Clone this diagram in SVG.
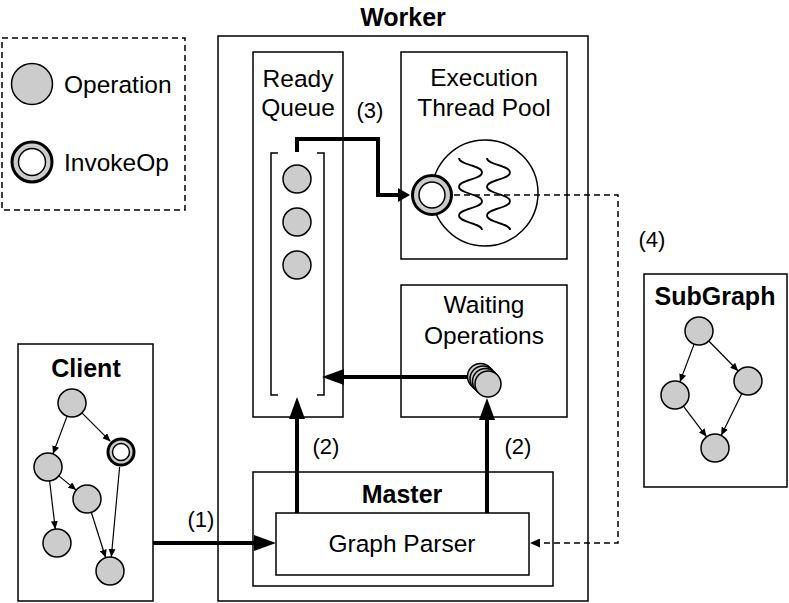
<svg xmlns="http://www.w3.org/2000/svg" width="789" height="603" viewBox="0 0 789 603">
<style>
.box{fill:#fff;stroke:#000;stroke-width:1.5}
.t{font-family:"Liberation Sans",Arial,sans-serif;font-size:24.5px;fill:#000;text-anchor:middle}
.tl{font-family:"Liberation Sans",Arial,sans-serif;font-size:24.5px;fill:#000}
.b{font-family:"Liberation Sans",Arial,sans-serif;font-size:25px;font-weight:bold;fill:#000;text-anchor:middle}
.lab{font-family:"Liberation Sans",Arial,sans-serif;font-size:22px;fill:#000;text-anchor:middle}
.op{fill:#cccccc;stroke:#000;stroke-width:1.5}
.ring{fill:#cccccc;stroke:#000;stroke-width:3}
.hole{fill:#fff;stroke:#000;stroke-width:1.5}
.thick{fill:none;stroke:#000;stroke-width:4}
.thin{fill:none;stroke:#000;stroke-width:1.2}
.dash{fill:none;stroke:#000;stroke-width:1.5;stroke-dasharray:6 4}
.wave{fill:none;stroke:#000;stroke-width:1.8}
</style>
<defs>
<marker id="big" viewBox="0 0 22 16" refX="12" refY="8" markerWidth="22" markerHeight="16" markerUnits="userSpaceOnUse" orient="auto"><path d="M0,0 L22,8 L0,16 z" fill="#000"/></marker>
<marker id="mid" viewBox="0 0 12 14" refX="6" refY="7" markerWidth="12" markerHeight="14" markerUnits="userSpaceOnUse" orient="auto"><path d="M0,0 L12,7 L0,14 z" fill="#000"/></marker>
<marker id="small" viewBox="0 0 8 7" refX="8" refY="3.5" markerWidth="8" markerHeight="7" markerUnits="userSpaceOnUse" orient="auto"><path d="M0,0 L8,3.5 L0,7 z" fill="#000"/></marker>
<marker id="dashhead" viewBox="0 0 10 9" refX="10" refY="4.5" markerWidth="10" markerHeight="9" markerUnits="userSpaceOnUse" orient="auto"><path d="M0,0 L10,4.5 L0,9 z" fill="#000"/></marker>
</defs>

<g id="legend">
<rect x="2" y="38" width="183" height="172" fill="none" stroke="#000" stroke-width="1.5" stroke-dasharray="6 4"/>
<circle class="op" cx="32" cy="84" r="20.5"/>
<text class="tl" x="64" y="93">Operation</text>
<circle class="ring" cx="32" cy="162" r="20"/>
<circle class="hole" cx="32" cy="162" r="13.5"/>
<text class="tl" x="64" y="171">InvokeOp</text>
</g>

<g id="worker">
<rect class="box" x="218" y="36" width="370" height="565"/>
<text class="b" x="403" y="26">Worker</text>
</g>

<g id="ready-queue">
<rect class="box" x="253" y="52" width="90" height="365"/>
<text class="t" x="298" y="87">Ready</text>
<text class="t" x="298" y="116">Queue</text>
<path d="M278,153 H271 V395 H278 M317,153 H324 V395 H317" fill="none" stroke="#000" stroke-width="1.5"/>
<circle class="op" cx="297" cy="179" r="14"/>
<circle class="op" cx="297" cy="222" r="14"/>
<circle class="op" cx="297" cy="265" r="14"/>
</g>

<g id="thread-pool">
<rect class="box" x="401" y="52" width="166" height="207"/>
<text class="t" x="484" y="86">Execution</text>
<text class="t" x="484" y="116">Thread Pool</text>
<circle cx="485" cy="193" r="53" fill="#fff" stroke="#000" stroke-width="1.5"/>
<path class="wave" d="M459,158 C459,165.2 482,165.2 482,172.4 C482,179.6 459,179.6 459,186.8 C459,194 482,194 482,201.2 C482,208.4 459,208.4 459,215.6 C459,222.8 482,222.8 482,230"/>
<path class="wave" d="M487,158 C487,165.2 510,165.2 510,172.4 C510,179.6 487,179.6 487,186.8 C487,194 510,194 510,201.2 C510,208.4 487,208.4 487,215.6 C487,222.8 510,222.8 510,230"/>
</g>

<g id="waiting-ops">
<rect class="box" x="401" y="285" width="166" height="132"/>
<text class="t" x="484" y="313">Waiting</text>
<text class="t" x="484" y="344">Operations</text>
</g>

<g id="master">
<rect class="box" x="253" y="472" width="300" height="114"/>
<text class="b" x="402" y="503">Master</text>
</g>

<g id="graph-parser">
<rect class="box" x="276" y="513" width="253" height="62"/>
<text class="t" x="402" y="552">Graph Parser</text>
</g>

<g id="client">
<rect class="box" x="18" y="344" width="135" height="257"/>
<text class="b" x="86" y="377">Client</text>
<line class="thin" x1="67.1" y1="416.1" x2="52.9" y2="453.9" marker-end="url(#small)"/>
<line class="thin" x1="81.9" y1="412.9" x2="110.4" y2="441.4" marker-end="url(#small)"/>
<line class="thin" x1="58.8" y1="475.9" x2="76.2" y2="490.1" marker-end="url(#small)"/>
<line class="thin" x1="49.6" y1="480.9" x2="55.3" y2="529.1" marker-end="url(#small)"/>
<line class="thin" x1="91.3" y1="512.3" x2="105.7" y2="557.7" marker-end="url(#small)"/>
<line class="thin" x1="119.6" y1="467" x2="111.3" y2="557" marker-end="url(#small)"/>
<circle class="op" cx="72" cy="403" r="14"/>
<circle class="ring" cx="121" cy="452" r="13"/>
<circle class="hole" cx="121" cy="452" r="8.5"/>
<circle class="op" cx="48" cy="467" r="14"/>
<circle class="op" cx="87" cy="499" r="14"/>
<circle class="op" cx="57" cy="543" r="14"/>
<circle class="op" cx="110" cy="571" r="14"/>
</g>

<g id="subgraph">
<rect class="box" x="644" y="274" width="143" height="213"/>
<text class="b" x="715" y="305">SubGraph</text>
<line class="thin" x1="694.1" y1="344.1" x2="679.9" y2="381.9" marker-end="url(#small)"/>
<line class="thin" x1="708.8" y1="341" x2="738.2" y2="371" marker-end="url(#small)"/>
<line class="thin" x1="683.4" y1="406.2" x2="706.6" y2="436.8" marker-end="url(#small)"/>
<line class="thin" x1="741.8" y1="393.6" x2="721.2" y2="435.4" marker-end="url(#small)"/>
<circle class="op" cx="699" cy="331" r="14"/>
<circle class="op" cx="748" cy="381" r="14"/>
<circle class="op" cx="675" cy="395" r="14"/>
<circle class="op" cx="715" cy="448" r="14"/>
</g>

<g id="connectors">
<path class="thick" d="M297,152 V139 H378 V195 H404" marker-end="url(#mid)"/>
<path class="dash" d="M454,195 H618 V543 H530" marker-end="url(#dashhead)"/>
<line class="thick" x1="153" y1="543" x2="266" y2="543" marker-end="url(#big)"/>
<line class="thick" x1="297" y1="513" x2="297" y2="407" marker-end="url(#big)"/>
<line class="thick" x1="487" y1="513" x2="487" y2="408" marker-end="url(#big)"/>
<line class="thick" x1="478" y1="377" x2="332" y2="377" marker-end="url(#big)"/>
<text class="lab" x="201" y="527">(1)</text>
<text class="lab" x="326" y="454">(2)</text>
<text class="lab" x="518" y="454">(2)</text>
<text class="lab" x="370" y="118">(3)</text>
<text class="lab" x="652" y="247">(4)</text>
</g>

<g id="invoke-op-running">
<circle class="ring" cx="432" cy="195" r="19.5"/>
<circle class="hole" cx="432" cy="195" r="13"/>
</g>

<g id="waiting-stack">
<circle class="op" cx="480.5" cy="376.5" r="13"/>
<circle class="op" cx="483" cy="379" r="13"/>
<circle class="op" cx="485.5" cy="381.5" r="13"/>
<circle class="op" cx="488" cy="384" r="13"/>
</g>
</svg>
